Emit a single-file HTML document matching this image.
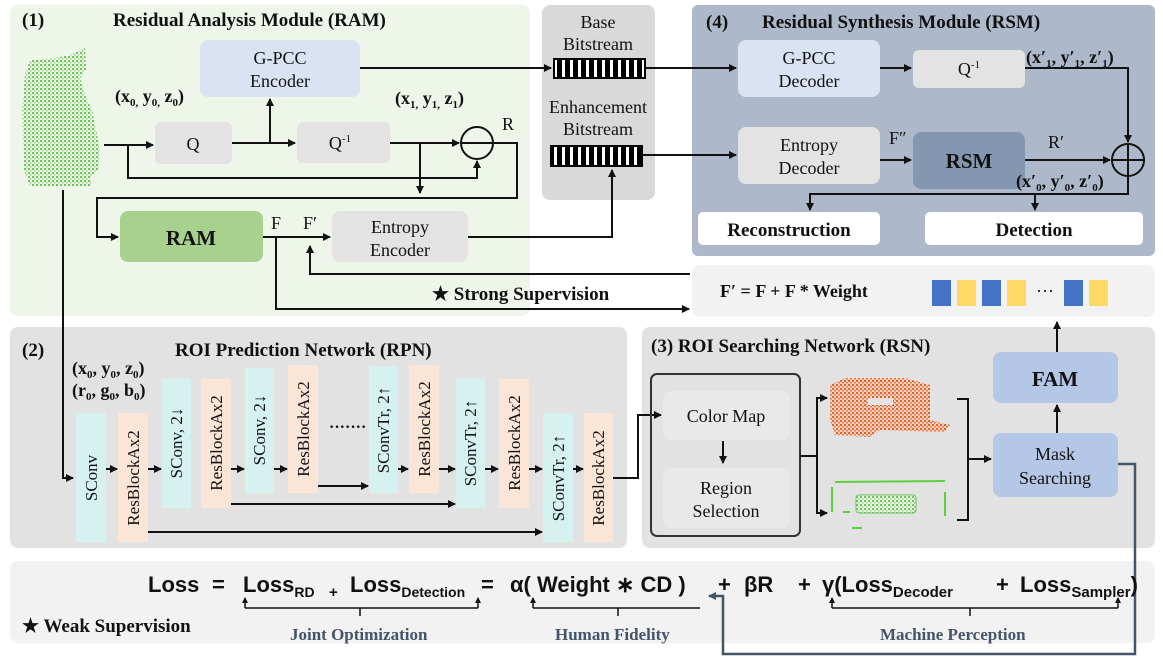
<!DOCTYPE html>
<html><head><meta charset="utf-8"><style>
html,body{margin:0;padding:0;background:#fff}
svg{display:block}
text{font-family:"Liberation Serif",serif;fill:#111}
.t{font-weight:bold;font-size:19px}
.b{font-size:18px}
.s{font-family:"Liberation Sans",sans-serif;font-weight:bold}
.lb{font-weight:bold;font-size:17px;fill:#44546a}
</style></head><body>
<svg width="1163" height="659" viewBox="0 0 1163 659" xmlns="http://www.w3.org/2000/svg">
<defs>
<marker id="a" markerWidth="8" markerHeight="8" refX="7" refY="4" orient="auto" markerUnits="userSpaceOnUse"><path d="M0,0 L8,4 L0,8 z" fill="#111"/></marker>
<marker id="as" markerWidth="6" markerHeight="6" refX="5" refY="3" orient="auto" markerUnits="userSpaceOnUse"><path d="M0,0 L6,3 L0,6 z" fill="#111"/></marker>
<marker id="ab" markerWidth="8" markerHeight="8" refX="7" refY="4" orient="auto" markerUnits="userSpaceOnUse"><path d="M0,0 L8,4 L0,8 z" fill="#44546a"/></marker>
<pattern id="gd" width="4" height="4" patternUnits="userSpaceOnUse"><rect width="4" height="4" fill="#eef5e9"/><rect x="0" y="0" width="2" height="2" fill="#6cc35a"/><rect x="2" y="2" width="1.5" height="1.5" fill="#8fd67e"/></pattern>
<pattern id="od" width="4" height="4" patternUnits="userSpaceOnUse"><rect width="4" height="4" fill="#f2d2c0"/><rect x="0" y="0" width="2" height="2" fill="#e2622a"/><rect x="2" y="2" width="2" height="1.5" fill="#ea7a48"/></pattern>
<pattern id="st" width="8" height="20" patternUnits="userSpaceOnUse"><rect width="8" height="20" fill="#000"/><rect x="2" width="3" height="20" fill="#fff"/></pattern>
</defs>

<rect x="10" y="5" width="520" height="311" rx="8" fill="#eef5e9"/>
<rect x="542" y="5" width="113" height="195" rx="8" fill="#d9d9d9"/>
<rect x="692" y="5" width="463" height="251" rx="6" fill="#adb9ca"/>
<rect x="692" y="265" width="463" height="52" rx="8" fill="#f2f2f2"/>
<rect x="10" y="327" width="617" height="221" rx="8" fill="#e2e2e2"/>
<rect x="642" y="327" width="513" height="221" rx="8" fill="#e2e2e2"/>
<rect x="10" y="561" width="1145" height="82" rx="8" fill="#f2f2f2"/>

<text x="22" y="26" class="t">(1)</text>
<text x="113" y="26" class="t">Residual Analysis Module (RAM)</text>
<path d="M25,75 L30,60 L55,58 L70,55 L85,48 L86,70 L80,78 L85,95 L92,110 L96,130 L100,150 L98,170 L90,178 L92,186 L30,186 L24,170 L22,110 Z" fill="url(#gd)"/>
<rect x="200" y="40" width="160" height="57" rx="8" fill="#dae3f3"/>
<text x="280" y="64" class="b" text-anchor="middle">G-PCC</text>
<text x="280" y="87" class="b" text-anchor="middle">Encoder</text>
<rect x="155" y="122" width="77" height="42" rx="6" fill="#e3e3e3"/>
<text x="193" y="150" class="b" text-anchor="middle">Q</text>
<rect x="297" y="122" width="93" height="41" rx="6" fill="#e3e3e3"/>
<text x="340" y="149" class="b" text-anchor="middle">Q<tspan font-size="11" dy="-7">-1</tspan></text>
<circle cx="477" cy="143" r="16" fill="none" stroke="#111" stroke-width="2"/>
<line x1="461" y1="143" x2="493" y2="143" stroke="#111" stroke-width="2"/>
<text x="502" y="130" class="b">R</text>
<text x="115" y="102" class="b" font-weight="bold">(x<tspan font-size="11" dy="4">0,</tspan><tspan dy="-4"> y</tspan><tspan font-size="11" dy="4">0,</tspan><tspan dy="-4"> z</tspan><tspan font-size="11" dy="4">0</tspan><tspan dy="-4">)</tspan></text>
<text x="395" y="104" class="b" font-weight="bold">(x<tspan font-size="11" dy="4">1,</tspan><tspan dy="-4"> y</tspan><tspan font-size="11" dy="4">1,</tspan><tspan dy="-4"> z</tspan><tspan font-size="11" dy="4">1</tspan><tspan dy="-4">)</tspan></text>
<rect x="120" y="211" width="143" height="51" rx="8" fill="#a9d18e"/>
<text x="191" y="245" text-anchor="middle" font-weight="bold" font-size="21">RAM</text>
<text x="271" y="229" class="b">F</text>
<text x="303" y="229" class="b">F′</text>
<rect x="332" y="211" width="136" height="51" rx="8" fill="#e3e3e3"/>
<text x="400" y="233" class="b" text-anchor="middle">Entropy</text>
<text x="400" y="256" class="b" text-anchor="middle">Encoder</text>
<g stroke="#111" stroke-width="2" fill="none">
<path d="M104,145 L153,145" marker-end="url(#a)"/>
<path d="M128,145 L128,178 L477,178 L477,161" marker-end="url(#a)"/>
<path d="M232,143 L295,143" marker-end="url(#a)"/>
<path d="M270,143 L270,99" marker-end="url(#a)"/>
<path d="M390,143 L459,143" marker-end="url(#a)"/>
<path d="M420,143 L420,193" marker-end="url(#a)"/>
<path d="M493,143 L517,143 L517,198 L97,198 L97,237 L118,237" marker-end="url(#a)"/>
<path d="M263,237 L330,237" marker-end="url(#a)"/>
<path d="M276,237 L276,309 L689,309" marker-end="url(#a)"/>
<path d="M690,274 L310,274 L310,246" marker-end="url(#a)"/>
<path d="M468,237 L612,237 L612,170" marker-end="url(#a)"/>
<path d="M360,68 L551,68" marker-end="url(#a)"/>
<path d="M63,190 L63,478 L73,478" marker-end="url(#a)"/>
</g>
<text x="432" y="300" class="t">★ Strong Supervision</text>

<text x="598" y="28" class="b" text-anchor="middle">Base</text>
<text x="598" y="50" class="b" text-anchor="middle">Bitstream</text>
<rect x="554" y="59" width="91" height="19" fill="url(#st)" stroke="#000" stroke-width="2"/>
<text x="598" y="113" class="b" text-anchor="middle">Enhancement</text>
<text x="598" y="135" class="b" text-anchor="middle">Bitstream</text>
<rect x="551" y="146" width="91" height="20" fill="url(#st)" stroke="#000" stroke-width="2"/>

<text x="706" y="28" class="t">(4)</text>
<text x="762" y="28" class="t">Residual Synthesis Module (RSM)</text>
<rect x="738" y="40" width="142" height="57" rx="8" fill="#dae3f3"/>
<text x="809" y="64" class="b" text-anchor="middle">G-PCC</text>
<text x="809" y="87" class="b" text-anchor="middle">Decoder</text>
<rect x="913" y="50" width="112" height="38" rx="6" fill="#e3e3e3"/>
<text x="969" y="75" class="b" text-anchor="middle">Q<tspan font-size="11" dy="-7">-1</tspan></text>
<rect x="738" y="127" width="142" height="57" rx="8" fill="#e3e3e3"/>
<text x="809" y="151" class="b" text-anchor="middle">Entropy</text>
<text x="809" y="174" class="b" text-anchor="middle">Decoder</text>
<rect x="913" y="132" width="112" height="57" rx="8" fill="#8497b0"/>
<text x="969" y="168" text-anchor="middle" font-weight="bold" font-size="21">RSM</text>
<circle cx="1128" cy="160" r="16" fill="none" stroke="#111" stroke-width="2"/>
<line x1="1112" y1="160" x2="1144" y2="160" stroke="#111" stroke-width="2"/>
<line x1="1128" y1="144" x2="1128" y2="176" stroke="#111" stroke-width="2"/>
<text x="1026" y="63" class="b" font-weight="bold">(x′<tspan font-size="11" dy="4">1</tspan><tspan dy="-4">, y′</tspan><tspan font-size="11" dy="4">1</tspan><tspan dy="-4">, z′</tspan><tspan font-size="11" dy="4">1</tspan><tspan dy="-4">)</tspan></text>
<text x="1016" y="187" class="b" font-weight="bold">(x′<tspan font-size="11" dy="4">0</tspan><tspan dy="-4">, y′</tspan><tspan font-size="11" dy="4">0</tspan><tspan dy="-4">, z′</tspan><tspan font-size="11" dy="4">0</tspan><tspan dy="-4">)</tspan></text>
<text x="889" y="144" class="b">F″</text>
<text x="1048" y="148" class="b">R′</text>
<g stroke="#111" stroke-width="2" fill="none">
<path d="M645,68 L736,68" marker-end="url(#a)"/>
<path d="M642,155 L736,155" marker-end="url(#a)"/>
<path d="M880,68 L911,68" marker-end="url(#a)"/>
<path d="M880,160 L911,160" marker-end="url(#a)"/>
<path d="M1025,68 L1128,68 L1128,142" marker-end="url(#a)"/>
<path d="M1025,160 L1110,160" marker-end="url(#a)"/>
<path d="M1128,176 L1128,194 L810,194 L810,210" marker-end="url(#a)"/>
<path d="M1035,194 L1035,210" marker-end="url(#a)"/>
</g>
<rect x="698" y="212" width="182" height="33" rx="5" fill="#fff"/>
<text x="789" y="236" text-anchor="middle" class="t">Reconstruction</text>
<rect x="925" y="212" width="218" height="33" rx="5" fill="#fff"/>
<text x="1034" y="236" text-anchor="middle" class="t">Detection</text>

<text x="720" y="297" class="b" font-weight="bold">F′ = F + F * Weight</text>
<rect x="932" y="280" width="19" height="26" fill="#4472c4"/>
<rect x="957" y="280" width="19" height="26" fill="#ffd966"/>
<rect x="982" y="280" width="19" height="26" fill="#4472c4"/>
<rect x="1007" y="280" width="19" height="26" fill="#ffd966"/>
<text x="1036" y="297" class="b">···</text>
<rect x="1064" y="280" width="19" height="26" fill="#4472c4"/>
<rect x="1089" y="280" width="19" height="26" fill="#ffd966"/>

<text x="22" y="356" class="t">(2)</text>
<text x="175" y="356" class="t">ROI Prediction Network (RPN)</text>
<text x="72" y="374" class="b" font-weight="bold">(x<tspan font-size="11" dy="4">0</tspan><tspan dy="-4">, y</tspan><tspan font-size="11" dy="4">0</tspan><tspan dy="-4">, z</tspan><tspan font-size="11" dy="4">0</tspan><tspan dy="-4">)</tspan></text>
<text x="72" y="396" class="b" font-weight="bold">(r<tspan font-size="11" dy="4">0</tspan><tspan dy="-4">, g</tspan><tspan font-size="11" dy="4">0</tspan><tspan dy="-4">, b</tspan><tspan font-size="11" dy="4">0</tspan><tspan dy="-4">)</tspan></text>
<g>
<rect x="76" y="413" width="30" height="129" fill="#d5f2f0"/><text transform="translate(97,478) rotate(-90)" text-anchor="middle" font-size="17">SConv</text>
<rect x="118" y="413" width="30" height="129" fill="#fbe5d6"/><text transform="translate(139,478) rotate(-90)" text-anchor="middle" font-size="17">ResBlockAx2</text>
<rect x="162" y="379" width="29" height="129" fill="#d5f2f0"/><text transform="translate(182,443) rotate(-90)" text-anchor="middle" font-size="17">SConv, 2↓</text>
<rect x="201" y="379" width="30" height="129" fill="#fbe5d6"/><text transform="translate(222,443) rotate(-90)" text-anchor="middle" font-size="17">ResBlockAx2</text>
<rect x="245" y="368" width="29" height="125" fill="#d5f2f0"/><text transform="translate(265,430) rotate(-90)" text-anchor="middle" font-size="17">SConv, 2↓</text>
<rect x="288" y="365" width="30" height="128" fill="#fbe5d6"/><text transform="translate(309,429) rotate(-90)" text-anchor="middle" font-size="17">ResBlockAx2</text>
<text x="329" y="432" font-size="16" font-weight="bold">·······</text>
<rect x="369" y="366" width="29" height="127" fill="#d5f2f0"/><text transform="translate(389,430) rotate(-90)" text-anchor="middle" font-size="17">SConvTr, 2↑</text>
<rect x="409" y="365" width="30" height="128" fill="#fbe5d6"/><text transform="translate(430,429) rotate(-90)" text-anchor="middle" font-size="17">ResBlockAx2</text>
<rect x="456" y="379" width="29" height="129" fill="#d5f2f0"/><text transform="translate(476,443) rotate(-90)" text-anchor="middle" font-size="17">SConvTr, 2↑</text>
<rect x="499" y="379" width="30" height="129" fill="#fbe5d6"/><text transform="translate(520,443) rotate(-90)" text-anchor="middle" font-size="17">ResBlockAx2</text>
<rect x="543" y="413" width="30" height="129" fill="#d5f2f0"/><text transform="translate(564,478) rotate(-90)" text-anchor="middle" font-size="17">SConvTr, 2↑</text>
<rect x="584" y="413" width="29" height="129" fill="#fbe5d6"/><text transform="translate(604,478) rotate(-90)" text-anchor="middle" font-size="17">ResBlockAx2</text>
</g>
<g stroke="#111" stroke-width="2" fill="none">
<path d="M106,469 L117,469" marker-end="url(#a)"/>
<path d="M148,469 L161,469" marker-end="url(#a)"/>
<path d="M231,469 L244,469" marker-end="url(#a)"/>
<path d="M274,469 L287,469" marker-end="url(#a)"/>
<path d="M398,469 L408,469" marker-end="url(#a)"/>
<path d="M439,469 L455,469" marker-end="url(#a)"/>
<path d="M485,469 L498,469" marker-end="url(#a)"/>
<path d="M529,469 L542,469" marker-end="url(#a)"/>
<path d="M573,469 L583,469" marker-end="url(#a)"/>
<path d="M318,486 L368,486" marker-end="url(#a)"/>
<path d="M231,504 L455,504" marker-end="url(#a)"/>
<path d="M148,532 L542,532" marker-end="url(#a)"/>
<path d="M613,478 L638,478 L638,415 L661,415" marker-end="url(#a)"/>
</g>

<text x="651" y="352" class="t">(3)  ROI Searching Network (RSN)</text>
<rect x="651" y="374" width="149" height="162" rx="6" fill="none" stroke="#333" stroke-width="2"/>
<rect x="663" y="391" width="127" height="49" rx="8" fill="#e9e9e9"/>
<text x="726" y="422" class="b" text-anchor="middle">Color Map</text>
<rect x="663" y="468" width="127" height="60" rx="8" fill="#e9e9e9"/>
<text x="726" y="494" class="b" text-anchor="middle">Region</text>
<text x="726" y="517" class="b" text-anchor="middle">Selection</text>
<path d="M830,385 L845,378 L905,378 L930,385 L930,420 L950,425 L945,432 L880,430 L870,437 L835,435 L830,420 Z" fill="url(#od)"/>
<rect x="868" y="398" width="25" height="7" fill="#e2e2e2"/>
<g stroke="#5ad23c" stroke-width="2" fill="none">
<path d="M835,482 L945,481"/><path d="M832,487 L832,512"/><path d="M945,492 L945,516"/>
<path d="M843,512 L850,512"/><path d="M852,528 L862,528"/>
</g>
<rect x="856" y="495" width="60" height="18" rx="3" fill="url(#gd)" stroke="#6cc35a"/>
<g stroke="#111" stroke-width="2" fill="none">
<path d="M723,441 L723,463" marker-end="url(#a)"/>
<path d="M800,456 L817,456"/>
<path d="M826,398 L817,398 L817,513 L826,513"/>
<path d="M817,398 L827,398" marker-end="url(#a)"/>
<path d="M817,513 L827,513" marker-end="url(#a)"/>
<path d="M957,399 L968,399 L968,520 L957,520"/>
<path d="M968,459 L991,459" marker-end="url(#a)"/>
<path d="M1057,433 L1057,405" marker-end="url(#a)"/>
<path d="M1057,352 L1057,322" marker-end="url(#a)"/>
</g>
<rect x="993" y="352" width="125" height="51" rx="8" fill="#b4c7e7"/>
<text x="1055" y="386" text-anchor="middle" font-weight="bold" font-size="21">FAM</text>
<rect x="993" y="433" width="125" height="64" rx="8" fill="#b4c7e7"/>
<text x="1055" y="460" class="b" text-anchor="middle">Mask</text>
<text x="1055" y="484" class="b" text-anchor="middle">Searching</text>
<path d="M1118,464 L1135,464 L1135,654 L723,654 L723,596 L709,596" stroke="#44546a" stroke-width="2.5" fill="none" marker-end="url(#ab)"/>

<g font-size="22">
<text x="148" y="592" class="s">Loss</text>
<text x="212" y="592" class="s">=</text>
<text x="243" y="592" class="s">Loss<tspan font-size="14" dy="5">RD</tspan></text>
<text x="329" y="597" class="s" font-size="15">+</text>
<text x="350" y="592" class="s">Loss<tspan font-size="14" dy="5">Detection</tspan></text>
<text x="481" y="592" class="s">=</text>
<text x="510" y="592" class="s">α( Weight ∗ CD )</text>
<text x="718" y="592" class="s">+</text>
<text x="744" y="592" class="s">βR</text>
<text x="798" y="592" class="s">+</text>
<text x="822" y="592" class="s">γ(Loss<tspan font-size="15" dy="5">Decoder</tspan></text>
<text x="996" y="592" class="s">+</text>
<text x="1020" y="592" class="s">Loss<tspan font-size="15" dy="5">Sampler</tspan><tspan dy="-5">)</tspan></text>
</g>
<g stroke="#111" stroke-width="1.5" fill="none">
<path d="M245,608 L245,598" marker-end="url(#as)"/><path d="M245,608 L478,608"/><path d="M478,608 L478,598" marker-end="url(#as)"/><path d="M360,608 L360,616"/>
<path d="M533,608 L533,598" marker-end="url(#as)"/><path d="M533,608 L700,608"/><path d="M618,608 L618,616"/>
<path d="M832,608 L832,598" marker-end="url(#as)"/><path d="M832,608 L1118,608"/><path d="M1118,608 L1118,598" marker-end="url(#as)"/><path d="M970,608 L970,616"/>
</g>
<text x="290" y="640" class="lb">Joint Optimization</text>
<text x="555" y="640" class="lb">Human Fidelity</text>
<text x="880" y="640" class="lb">Machine Perception</text>
<text x="22" y="632" class="t">★ Weak Supervision</text>
</svg>
</body></html>
